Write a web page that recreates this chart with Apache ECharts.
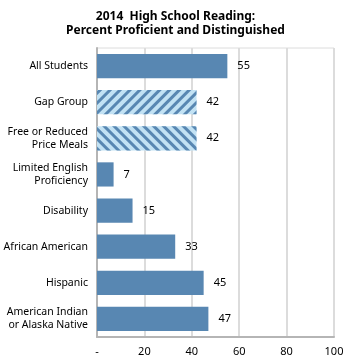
<!DOCTYPE html>
<html>
<head>
<meta charset="utf-8">
<script src="https://cdn.jsdelivr.net/npm/echarts@6/dist/echarts.min.js"></script>
<style>
  html, body { margin: 0; padding: 0; background: #fff; }
  #chart { width: 351px; height: 363px; }
</style>
</head>
<body>
<div id="chart"></div>
<script>
const categories = ['All Students', 'Gap Group', 'Free or Reduced\nPrice Meals', 'Limited English\nProficiency',
  'Disability', 'African American', 'Hispanic', 'American Indian\nor Alaska Native']
const values = [55, 42, 42, 7, 15, 33, 45, 47]
const hatched = [false, true, true, false, false, false, false, false]
const tickLabels = ['-', '20', '40', '60', '80', '100']

const font = '"Noto Sans", Tahoma, sans-serif'
const barBlue = '#5887b2'

// hatch direction: Gap Group "///" (negative rotation), Free or Reduced "\\\"
function hatch(i) {
  return {
    symbol: 'rect',
    symbolSize: 1,
    dashArrayX: [1, 0],
    dashArrayY: [3, 4],
    rotation: i === 1 ? -Math.PI / 4 : Math.PI / 4,
    color: barBlue
  }
}

let chart = echarts.init(document.getElementById('chart'))
chart.setOption({
  animation: false,
  title: {
    text: '2014  High School Reading:\nPercent Proficient and Distinguished',
    left: 'center',
    top: 5,
    textStyle: { fontFamily: font, fontSize: 12, fontWeight: 'bold', color: '#000', lineHeight: 14 }
  },
  grid: {
    left: 97,
    right: 17,
    top: 48,
    bottom: 26,
    outerBoundsMode: 'none',
    containLabel: false,
    show: true,
    borderColor: '#dcdcdc',
    borderWidth: 1
  },
  xAxis: {
    type: 'value',
    min: 0,
    max: 100,
    interval: 20,
    axisLine: { show: true, lineStyle: { color: '#b5b5b5', width: 2 } },
    axisTick: { show: false },
    splitLine: { lineStyle: { color: '#dcdcdc', width: 2 } },
    axisLabel: {
      fontFamily: font,
      fontSize: 11,
      color: '#000',
      margin: 9,
      formatter: v => tickLabels[v / 20]
    }
  },
  yAxis: {
    type: 'category',
    data: categories,
    inverse: true,
    axisLine: { show: true, lineStyle: { color: '#b5b5b5', width: 2 } },
    axisTick: { show: false },
    axisLabel: { fontFamily: font, fontSize: 10.5, color: '#000', margin: 9, lineHeight: 13 }
  },
  series: [
    {
      type: 'bar',
      barCategoryGap: '33%',
      data: values.map((v, i) => hatched[i]
        ? { value: v, itemStyle: { color: '#c2e2f4', decal: hatch(i) } }
        : { value: v }),
      itemStyle: { color: barBlue },
      label: {
        show: true,
        position: 'right',
        distance: 10,
        fontFamily: font,
        fontSize: 11,
        color: '#000'
      }
    }
  ]
})
</script>
</body>
</html>
